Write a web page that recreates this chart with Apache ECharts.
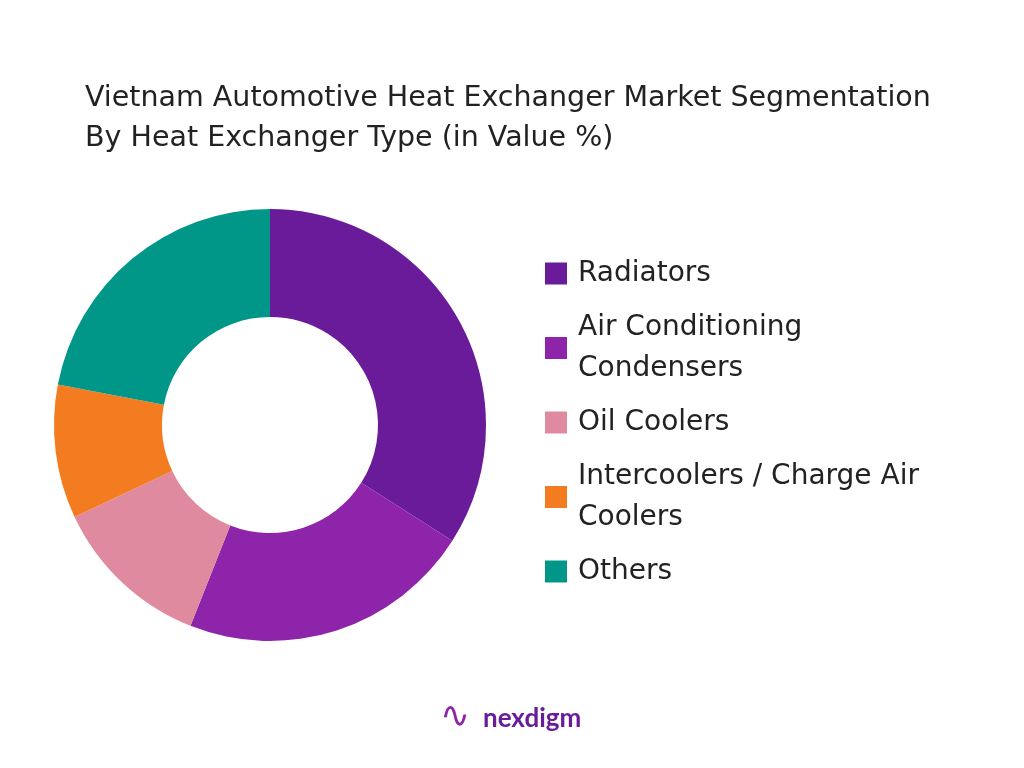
<!DOCTYPE html>
<html><head><meta charset="utf-8">
<script src="https://cdn.jsdelivr.net/npm/echarts@6/dist/echarts.min.js"></script>
<style>html,body{margin:0;background:#fff}#c{width:1024px;height:768px}</style>
</head><body><div id="c"></div>
<script>
const categories = ['Radiators','Air Conditioning\nCondensers','Oil Coolers','Intercoolers / Charge Air\nCoolers','Others'];
const values = [34,22,12,10,22];
const colors = ['#6a1b9a','#8e24aa','#e08aa0','#f47c20','#009688'];
const chart = echarts.init(document.getElementById('c'));
chart.setOption({
  animation:false,
  color: colors,
  title:{text:'Vietnam Automotive Heat Exchanger Market Segmentation\nBy Heat Exchanger Type (in Value %)',left:80,top:74,
    textStyle:{fontFamily:'DejaVu Sans',fontSize:28.5,fontWeight:'normal',color:'#222',lineHeight:40}},
  legend:{orient:'vertical',left:540,top:248,itemWidth:22,itemHeight:22,itemGap:13,icon:'rect',
    textStyle:{fontFamily:'DejaVu Sans',fontSize:28,color:'#222',lineHeight:41,padding:[0,0,0,6]},
    data:categories},
  series:[{type:'pie',center:[270,425],radius:[108,216],startAngle:90,clockwise:true,
    label:{show:false},labelLine:{show:false},
    data:categories.map((n,i)=>({name:n,value:values[i]}))}],
  graphic:[{type:'text',left:483,top:706,style:{text:'nexdigm',font:'bold 26px Lato',fill:'#6a1b9a'}},
    {type:'text',left:440,top:700,style:{text:'∿',font:'36px DejaVu Sans',fill:'#8e24aa'}}]
});
</script></body></html>
